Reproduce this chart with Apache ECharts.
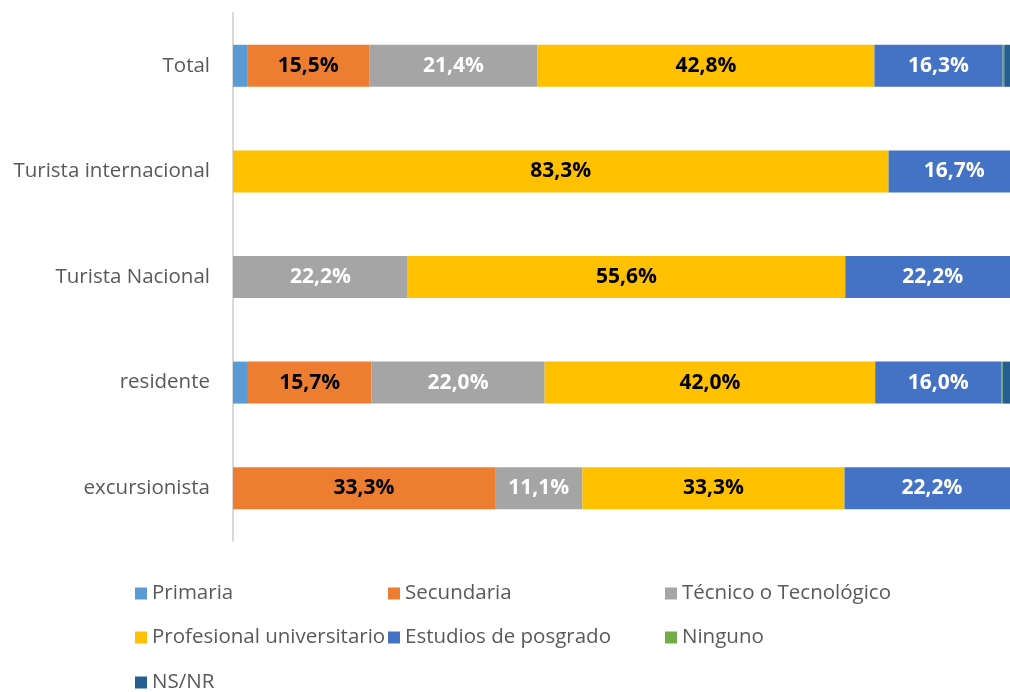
<!doctype html>
<html>
<head>
<meta charset="utf-8">
<script src="https://cdn.jsdelivr.net/npm/echarts@6/dist/echarts.min.js"></script>
</head>
<body style="margin:0">
<div id="main" style="width:1010px;height:692px;"></div>
<script type="text/javascript">
var categories = ['Total', 'Turista internacional', 'Turista Nacional', 'residente', 'excursionista'];
var primaria = [1.8, 0, 0, 1.9, 0];
var secundaria = [15.5, 0, 0, 15.7, 33.3];
var tecnico = [21.4, 0, 22.2, 22.0, 11.1];
var profesional = [42.8, 83.3, 55.6, 42.0, 33.3];
var posgrado = [16.3, 16.7, 22.2, 16.0, 22.2];
var ninguno = [0.2, 0, 0, 0.2, 0];
var nsnr = [2.0, 0, 0, 2.2, 0];

var myChart = echarts.init(document.getElementById('main'));
var font = '"Open Sans", Lato, sans-serif';

function fmt(p) {
    if (!p.value) return '';
    return p.value.toFixed(1).replace('.', ',') + '%';
}
function mk(name, data, color, labelColor) {
    return {
        name: name,
        type: 'bar',
        stack: 'all',
        data: data,
        barWidth: 42,
        itemStyle: { color: color },
        label: {
            show: !!labelColor,
            formatter: fmt,
            color: labelColor,
            fontWeight: 'bold',
            fontSize: 21,
            fontFamily: font
        },
        emphasis: { disabled: true }
    };
}
// legend items placed in 3 columns
var legendPos = [
    ['Primaria', 135, 583], ['Secundaria', 388, 583], ['Técnico o Tecnológico', 665, 583],
    ['Profesional universitario', 135, 627], ['Estudios de posgrado', 388, 627], ['Ninguno', 665, 627],
    ['NS/NR', 135, 672]
];
var legends = legendPos.map(function (l) {
    return {
        data: [l[0]], left: l[1], top: l[2], padding: 0,
        itemWidth: 12, itemHeight: 12, itemGap: 0, icon: 'rect',
        textStyle: { color: '#595959', fontSize: 20.5, fontFamily: font, padding: [0, 0, 0, 0] },
        selectedMode: false
    };
});

option = {
    animation: false,
    legend: legends,
    grid: { left: 233, width: 787, top: 13, bottom: 151, outerBoundsMode: 'none' },
    xAxis: {
        type: 'value', min: 0, max: 100, show: false
    },
    yAxis: {
        type: 'category',
        data: categories,
        inverse: true,
        axisLine: { lineStyle: { color: '#d9d9d9', width: 2 } },
        axisTick: { show: false },
        axisLabel: { color: '#595959', fontSize: 20.5, fontFamily: font, margin: 23 }
    },
    series: [
        mk('Primaria', primaria, '#5B9BD5', null),
        mk('Secundaria', secundaria, '#ED7D31', '#000'),
        mk('Técnico o Tecnológico', tecnico, '#A5A5A5', '#fff'),
        mk('Profesional universitario', profesional, '#FFC000', '#000'),
        mk('Estudios de posgrado', posgrado, '#4472C4', '#fff'),
        mk('Ninguno', ninguno, '#70AD47', null),
        mk('NS/NR', nsnr, '#255E91', null)
    ]
};
myChart.setOption(option);
</script>
</body>
</html>
